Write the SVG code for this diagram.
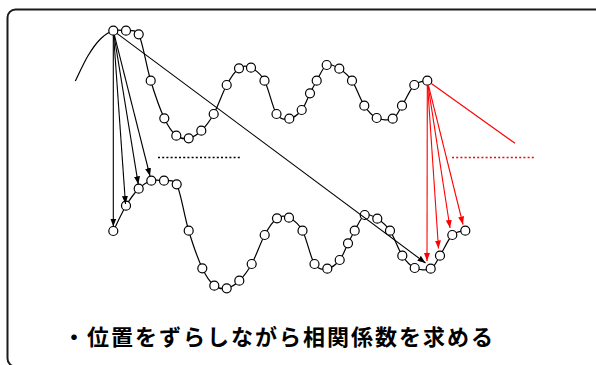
<svg xmlns="http://www.w3.org/2000/svg" xmlns:xlink="http://www.w3.org/1999/xlink" width="596" height="365" viewBox="0 0 596 365">
<style>
.frame{fill:none;stroke:#1a1a1a;stroke-width:2}
.wave{fill:none;stroke:#000;stroke-width:1.2}
.dot{fill:#fff;stroke:#000;stroke-width:1.2}
.blk{fill:none;stroke:#000;stroke-width:1.1}
.red{fill:none;stroke:#ff0000;stroke-width:1.1}
.dotted-b{fill:none;stroke:#000;stroke-width:1.6;stroke-dasharray:2 2.2}
.dotted-r{fill:none;stroke:#ff0000;stroke-width:1.6;stroke-dasharray:2 2.2}
.caption{font-family:"Noto Sans CJK JP","Noto Sans CJK SC",sans-serif;font-size:22px;font-weight:bold;fill:#000;letter-spacing:2px}
</style>
<defs>
<marker id="ah-b" markerUnits="userSpaceOnUse" markerWidth="9" markerHeight="7" refX="8" refY="3" orient="auto">
<path d="M0,0 L8,3 L0,6 Z" fill="#000"/>
</marker>
<marker id="ah-r" markerUnits="userSpaceOnUse" markerWidth="9" markerHeight="7" refX="8" refY="3" orient="auto">
<path d="M0,0 L8,3 L0,6 Z" fill="#ff0000"/>
</marker>
<path id="wavepath" d="M75.3,81 C77.42,76.78 83.77,62.75 88,55.7 C92.23,48.65 96.48,42.87 100.7,38.7 C104.92,34.53 109.08,32.03 113.3,30.7 C117.52,29.37 121.77,30.1 126,30.7 C130.23,31.3 134.58,28.5 138.7,34.3 C142.82,42.63 146.43,66.7 150.7,80.7 C154.97,94.7 160.03,109.13 164.3,118.3 C168.57,127.47 172.23,132.37 176.3,135.7 C180.37,139.03 184.53,139.13 188.7,138.3 C192.87,137.47 197.13,134.75 201.3,130.7 C205.47,126.65 209.47,121.62 213.7,114 C217.93,106.38 222.48,92.62 226.7,85 C230.92,77.38 234.95,71.18 239,68.3 C243.05,65.42 246.75,65.63 251,67.7 C255.25,69.77 260.25,72.98 264.5,80.7 C268.75,88.42 272.37,107.67 276.5,114 C280.63,120.33 285.1,119.37 289.3,118.7 C293.5,118.03 298.25,114.23 301.7,110 C305.15,105.77 307.5,98.18 310,93.3 C312.5,88.42 313.92,85.42 316.7,80.7 C319.48,75.98 322.93,67 326.7,65 C330.47,63 335.08,66.08 339.3,68.7 C343.52,71.32 347.83,74.53 352,80.7 C356.17,86.87 360.18,99.48 364.3,105.7 C368.42,111.92 371.97,115.83 376.7,118 C381.43,120.17 388.48,120.75 392.7,118.7 C396.92,116.65 398.4,111.32 402,105.7 C405.6,100.08 410.08,89.17 414.3,85 C418.52,80.83 425.13,81.42 427.3,80.7"/>
</defs>

<rect class="frame" x="7.5" y="9.5" width="600" height="357" rx="8"/>

<g id="signal-upper">
<use xlink:href="#wavepath" class="wave"/>
<circle class="dot" cx="113.3" cy="30.7" r="4.5"/>
<circle class="dot" cx="126" cy="30.7" r="4.5"/>
<circle class="dot" cx="138.7" cy="34.3" r="4.5"/>
<circle class="dot" cx="150.7" cy="80.7" r="4.5"/>
<circle class="dot" cx="164.3" cy="118.3" r="4.5"/>
<circle class="dot" cx="176.3" cy="135.7" r="4.5"/>
<circle class="dot" cx="188.7" cy="138.3" r="4.5"/>
<circle class="dot" cx="201.3" cy="130.7" r="4.5"/>
<circle class="dot" cx="213.7" cy="114" r="4.5"/>
<circle class="dot" cx="226.7" cy="85" r="4.5"/>
<circle class="dot" cx="239" cy="68.3" r="4.5"/>
<circle class="dot" cx="251" cy="67.7" r="4.5"/>
<circle class="dot" cx="264.5" cy="80.7" r="4.5"/>
<circle class="dot" cx="276.5" cy="114" r="4.5"/>
<circle class="dot" cx="289.3" cy="118.7" r="4.5"/>
<circle class="dot" cx="301.7" cy="110" r="4.5"/>
<circle class="dot" cx="310" cy="93.3" r="4.5"/>
<circle class="dot" cx="316.7" cy="80.7" r="4.5"/>
<circle class="dot" cx="326.7" cy="65" r="4.5"/>
<circle class="dot" cx="339.3" cy="68.7" r="4.5"/>
<circle class="dot" cx="352" cy="80.7" r="4.5"/>
<circle class="dot" cx="364.3" cy="105.7" r="4.5"/>
<circle class="dot" cx="376.7" cy="118" r="4.5"/>
<circle class="dot" cx="392.7" cy="118.7" r="4.5"/>
<circle class="dot" cx="402" cy="105.7" r="4.5"/>
<circle class="dot" cx="414.3" cy="85" r="4.5"/>
<circle class="dot" cx="427.3" cy="80.7" r="4.5"/>
</g>

<g id="signal-lower" transform="translate(38,150)">
<use xlink:href="#wavepath" class="wave"/>
<circle class="dot" cx="75.3" cy="81" r="4.5"/>
<circle class="dot" cx="88" cy="55.7" r="4.5"/>
<circle class="dot" cx="100.7" cy="38.7" r="4.5"/>
<circle class="dot" cx="113.3" cy="30.7" r="4.5"/>
<circle class="dot" cx="126" cy="30.7" r="4.5"/>
<circle class="dot" cx="138.7" cy="34.3" r="4.5"/>
<circle class="dot" cx="150.7" cy="80.7" r="4.5"/>
<circle class="dot" cx="164.3" cy="118.3" r="4.5"/>
<circle class="dot" cx="176.3" cy="135.7" r="4.5"/>
<circle class="dot" cx="188.7" cy="138.3" r="4.5"/>
<circle class="dot" cx="201.3" cy="130.7" r="4.5"/>
<circle class="dot" cx="213.7" cy="114" r="4.5"/>
<circle class="dot" cx="226.7" cy="85" r="4.5"/>
<circle class="dot" cx="239" cy="68.3" r="4.5"/>
<circle class="dot" cx="251" cy="67.7" r="4.5"/>
<circle class="dot" cx="264.5" cy="80.7" r="4.5"/>
<circle class="dot" cx="276.5" cy="114" r="4.5"/>
<circle class="dot" cx="289.3" cy="118.7" r="4.5"/>
<circle class="dot" cx="301.7" cy="110" r="4.5"/>
<circle class="dot" cx="310" cy="93.3" r="4.5"/>
<circle class="dot" cx="316.7" cy="80.7" r="4.5"/>
<circle class="dot" cx="326.7" cy="65" r="4.5"/>
<circle class="dot" cx="339.3" cy="68.7" r="4.5"/>
<circle class="dot" cx="352" cy="80.7" r="4.5"/>
<circle class="dot" cx="364.3" cy="105.7" r="4.5"/>
<circle class="dot" cx="376.7" cy="118" r="4.5"/>
<circle class="dot" cx="392.7" cy="118.7" r="4.5"/>
<circle class="dot" cx="402" cy="105.7" r="4.5"/>
<circle class="dot" cx="414.3" cy="85" r="4.5"/>
<circle class="dot" cx="427.3" cy="80.7" r="4.5"/>
</g>

<g id="connectors">
<line class="blk" x1="113.3" y1="35.2" x2="113.3" y2="226.5" marker-end="url(#ah-b)"/>
<line class="blk" x1="113.6" y1="35.2" x2="125.5" y2="204" marker-end="url(#ah-b)"/>
<line class="blk" x1="114" y1="35.1" x2="138.3" y2="184.3" marker-end="url(#ah-b)"/>
<line class="blk" x1="114.4" y1="35.1" x2="150" y2="176" marker-end="url(#ah-b)"/>
<line class="blk" x1="116.9" y1="33.4" x2="425.5" y2="263" marker-end="url(#ah-b)"/>
<line class="red" x1="427.3" y1="85.2" x2="427" y2="261" marker-end="url(#ah-r)"/>
<line class="red" x1="427.6" y1="85.2" x2="438.5" y2="248.5" marker-end="url(#ah-r)"/>
<line class="red" x1="428" y1="85.1" x2="450" y2="228" marker-end="url(#ah-r)"/>
<line class="red" x1="428.4" y1="85.1" x2="463" y2="224.5" marker-end="url(#ah-r)"/>
<line class="red" x1="431" y1="83.3" x2="515" y2="143.3"/>
<line class="dotted-b" x1="158" y1="157.5" x2="241" y2="157.5"/>
<line class="dotted-r" x1="452" y1="157.5" x2="536" y2="157.5"/>
</g>

<text class="caption" x="63" y="345">・位置をずらしながら相関係数を求める</text>
</svg>
